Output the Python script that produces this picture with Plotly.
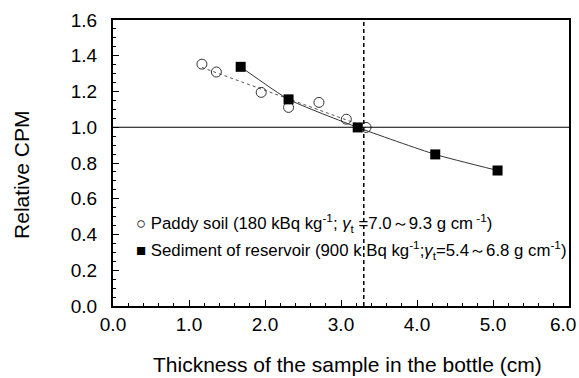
import numpy as np
import plotly.graph_objects as go

# Data
paddy_x = [1.17, 1.36, 1.95, 2.31, 2.71, 3.07, 3.33]
paddy_y = [1.353, 1.309, 1.195, 1.111, 1.139, 1.045, 0.999]
sed_x = [1.68, 2.31, 3.22, 4.24, 5.06]
sed_y = [1.338, 1.156, 0.999, 0.848, 0.758]
ref_thickness = 3.3
ref_cpm = 1.0
x_ticks = [0, 1, 2, 3, 4, 5, 6]
x_ticklabels = ["0.0", "1.0", "2.0", "3.0", "4.0", "5.0", ""]
x_last_label = "6.0"
y_ticks = [0, 0.2, 0.4, 0.6, 0.8, 1.0, 1.2, 1.4, 1.6]
y_ticklabels = ["0.0", "0.2", "0.4", "0.6", "0.8", "1.0", "1.2", "1.4", "1.6"]
x_title = "Thickness of the sample in the bottle (cm)"
y_title = "Relative CPM"
legend_paddy = "○ Paddy soil (180 kBq kg<sup>-1</sup>; <i>γ</i><sub>t</sub> =7.0～9.3 g cm<sup> -1</sup>)"
legend_sed = "■ Sediment of reservoir (900 k Bq kg<sup>-1</sup>;<i>γ</i><sub>t</sub>=5.4～6.8 g cm<sup>-1</sup>)"

FONT = "Arial, 'Liberation Sans', sans-serif"

# linear trend for paddy soil (fitted from data)
coef = np.polyfit(paddy_x, paddy_y, 1)
fx = np.linspace(min(paddy_x), max(paddy_x), 50)
fy = np.polyval(coef, fx)

fig = go.Figure()
fig.add_trace(go.Scatter(x=fx, y=fy, mode="lines",
                         line=dict(color="#555555", width=1, dash="dot"),
                         showlegend=False, hoverinfo="skip"))
fig.add_trace(go.Scatter(x=sed_x, y=sed_y, mode="lines", line_shape="spline",
                         line=dict(color="#333333", width=1, smoothing=0.5),
                         showlegend=False, hoverinfo="skip"))
fig.add_trace(go.Scatter(x=paddy_x, y=paddy_y, mode="markers",
                         marker=dict(symbol="circle-open", size=10,
                                     color="#333333", line=dict(width=1)),
                         showlegend=False))
fig.add_trace(go.Scatter(x=sed_x, y=sed_y, mode="markers",
                         marker=dict(symbol="square", size=10, color="black"),
                         showlegend=False))

fig.add_shape(type="line", xref="x", yref="y", x0=0, x1=6, y0=ref_cpm, y1=ref_cpm,
              line=dict(color="black", width=1.2))
fig.add_shape(type="line", xref="x", yref="y", x0=ref_thickness, x1=ref_thickness,
              y0=0, y1=1.6, line=dict(color="black", width=1.5, dash="4px,3px"))

fig.add_annotation(x=0.27, y=0.463, xref="x", yref="y", text=legend_paddy,
                   showarrow=False, xanchor="left", yanchor="middle",
                   font=dict(family=FONT, size=16.8, color="black"))
fig.add_annotation(x=0.27, y=0.312, xref="x", yref="y", text=legend_sed,
                   showarrow=False, xanchor="left", yanchor="middle",
                   font=dict(family=FONT, size=16.8, color="black"))

# last x tick label, kept inside the page edge
fig.add_annotation(x=x_ticks[-1], y=0, xref="x", yref="paper", text=x_last_label,
                   showarrow=False, xanchor="right", yanchor="top", xshift=9, yshift=-6,
                   font=dict(family=FONT, size=19, color="black"))

# axis titles
fig.add_annotation(x=0.515, y=-0.205, xref="paper", yref="paper", text=x_title,
                   showarrow=False, xanchor="center", yanchor="middle",
                   font=dict(family=FONT, size=21, color="black"))
fig.add_annotation(x=-0.202, y=0.458, xref="paper", yref="paper", text=y_title,
                   showarrow=False, xanchor="center", yanchor="middle", textangle=-90,
                   font=dict(family=FONT, size=21, color="black"))

fig.update_xaxes(range=[0, 6], tickvals=x_ticks, ticktext=x_ticklabels,
                 ticks="inside", ticklen=6, tickwidth=1, tickcolor="black",
                 minor=dict(dtick=0.2, ticks="inside", ticklen=3, tickcolor="black"),
                 showgrid=False, zeroline=False, showline=True, linecolor="black",
                 linewidth=2, mirror=True, automargin=False,
                 tickfont=dict(family=FONT, size=19, color="black"))
fig.update_yaxes(range=[0, 1.6], tickvals=y_ticks, ticktext=y_ticklabels,
                 ticks="inside", ticklen=6, tickwidth=1, tickcolor="black",
                 minor=dict(dtick=0.05, ticks="inside", ticklen=3, tickcolor="black"),
                 showgrid=False, zeroline=False, showline=True, linecolor="black",
                 linewidth=2, mirror=True, ticklabelstandoff=10, automargin=False,
                 tickfont=dict(family=FONT, size=19, color="black"))

fig.update_layout(width=579, height=378, margin=dict(l=113, r=10, t=20, b=72),
                  plot_bgcolor="white", paper_bgcolor="white")

fig.write_html("out.html")
